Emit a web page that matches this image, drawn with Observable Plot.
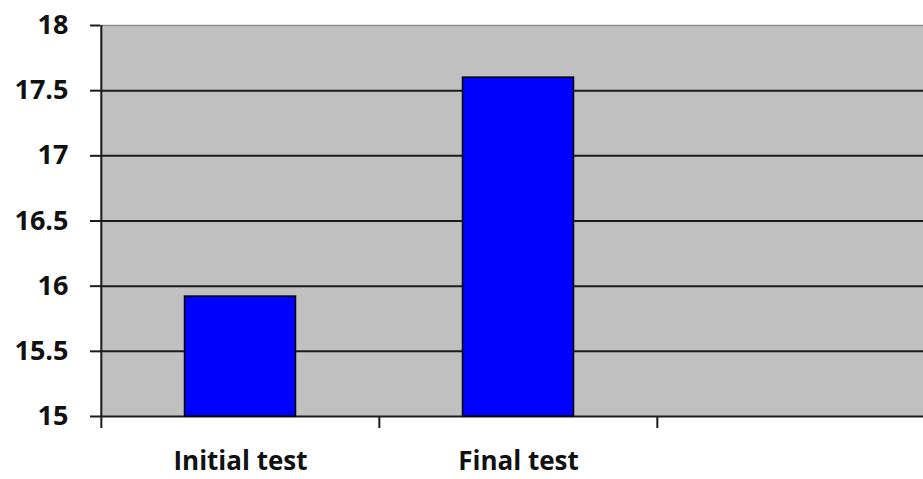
<!DOCTYPE html>
<html>
<head>
<meta charset="utf-8">
<script src="https://cdn.jsdelivr.net/npm/d3@7"></script>
<script src="https://cdn.jsdelivr.net/npm/@observablehq/plot@0.6"></script>
<style>
  html, body { margin: 0; padding: 0; background: #fff; overflow: hidden; }
  #chart svg { display: block; max-width: none !important; height: 479px !important; }
</style>
</head>
<body>
<div id="chart"></div>
<script>
// Test scores (bar chart with an empty third slot on the category axis)
const categories = ["Initial test", "Final test"];
const slots = ["Initial test", "Final test", " "];
const scores = [15.92, 17.6];
const yTicks = [15, 15.5, 16, 16.5, 17, 17.5, 18];
const gridValues = [15.5, 16, 16.5, 17, 17.5];

const data = categories.map((c, i) => ({category: c, score: scores[i]}));

const W = 935, ML = 100, MR = 0;
const band = (W - ML - MR) / slots.length;
const barWidth = band / 2.5;          // gap width 150%
const inset = (band - barWidth) / 2;

const font = "'Open Sans', 'Liberation Sans', sans-serif";

const chart = Plot.plot({
  width: W,
  height: 479,
  marginLeft: ML,
  marginRight: MR,
  marginTop: 25,
  marginBottom: 63,
  style: {fontFamily: font, fontSize: "27px", fontWeight: 700, color: "#111", background: "#fff", overflow: "visible", maxWidth: "none"},
  x: {domain: slots, padding: 0},
  y: {domain: [15, 18]},
  marks: [
    Plot.frame({fill: "#c0c0c0", stroke: null}),
    // horizontal gridlines
    Plot.ruleY(gridValues, {stroke: "#1c1c1c", strokeWidth: 2}),
    Plot.ruleY([18], {stroke: "#8c8c8c", strokeWidth: 1.5}),
    Plot.ruleY([15], {stroke: "#1c1c1c", strokeWidth: 2}),
    // bars
    Plot.barY(data, {
      x: "category", y1: 15, y2: "score",
      fill: "#0000ff", stroke: "#000", strokeWidth: 1.5,
      insetLeft: inset, insetRight: inset
    }),
    // value axis line and category boundary ticks
    Plot.ruleX([slots[0]], {dx: -band / 2, y1: 18, y2: 15, insetBottom: -12, stroke: "#1c1c1c", strokeWidth: 2}),
    Plot.ruleX(slots.slice(1), {dx: -band / 2, y1: 15, y2: 15, insetBottom: -12, stroke: "#1c1c1c", strokeWidth: 2}),
    Plot.axisY({
      ticks: yTicks, tickFormat: d => String(d),
      tickSize: 10, tickPadding: 22, stroke: "#1c1c1c", strokeWidth: 2,
      fontSize: 27, fontWeight: 700, fill: "#111", label: null
    }),
    Plot.axisX({
      ticks: categories, tickSize: 0, tickPadding: 35,
      fontSize: 26, fontWeight: 700, fill: "#111", label: null
    })
  ]
});

document.getElementById("chart").appendChild(chart);
</script>
</body>
</html>
